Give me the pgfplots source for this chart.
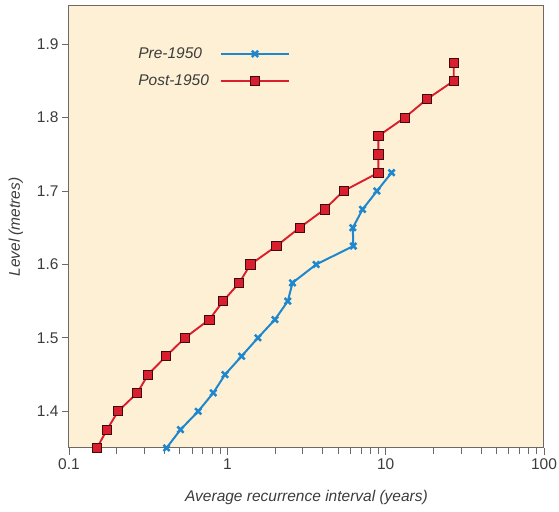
\documentclass[border=0pt]{standalone}
\usepackage{pgfplots}
\pgfplotsset{compat=1.18}
\usepackage{fontspec}
\setmainfont{Liberation Sans}

\definecolor{bgbeige}{RGB}{253,240,212}
\definecolor{postred}{RGB}{218,30,45}
\definecolor{preblue}{RGB}{30,135,205}
\definecolor{frame}{RGB}{110,105,100}
\definecolor{txt}{RGB}{60,60,60}

\begin{document}
\begin{tikzpicture}
\begin{axis}[
    xmode=log,
    scale only axis,
    width=475pt, height=442pt,
    xmin=0.1, xmax=100,
    ymin=1.35, ymax=1.952,
    xtick={0.1,1,10,100},
    xticklabels={0.1,1,10,100},
    ytick={1.4,1.5,1.6,1.7,1.8,1.9},
    yticklabels={1.4,1.5,1.6,1.7,1.8,1.9},
    tick align=outside,
    major tick length=7pt,
    minor tick length=6pt,
    xtick pos=bottom, ytick pos=left,
    tick style={draw=frame, line width=0.8pt},
    axis line style={draw=frame, line width=1pt},
    axis background/.style={fill=bgbeige},
    ticklabel style={font=\fontsize{15.5}{18}\selectfont, text=txt},
    label style={font=\fontsize{15.5}{18}\selectfont\itshape, text=txt},
    xlabel={Average recurrence interval (years)},
    ylabel={Level (metres)},
    xlabel style={yshift=-14pt},
    ylabel style={yshift=7pt},
    legend style={draw=none, fill=none, at={(0.135,0.915)}, anchor=north west,
        font=\fontsize{15.5}{18}\selectfont\itshape, text=txt, row sep=11pt,
        /tikz/every odd column/.append style={column sep=9pt}},
    legend plot pos=right,
    legend cell align=left,
    legend image code/.code={
        \draw[mark repeat=2, mark phase=2] plot coordinates {(0pt,0pt) (34pt,0pt) (68pt,0pt)};
    },
]
\addplot[color=preblue, line width=2pt, mark=x, mark size=4.4pt,
    mark options={line width=2.5pt}] coordinates {
    (0.413,1.35) (0.506,1.375) (0.655,1.4) (0.815,1.425) (0.967,1.45)
    (1.23,1.475) (1.56,1.5) (2.0,1.525) (2.41,1.55) (2.58,1.575)
    (3.64,1.6) (6.25,1.625) (6.2,1.65) (7.15,1.675) (8.81,1.7) (10.9,1.725)
};
\addlegendentry{Pre-1950}
\addplot[color=postred, line width=1.9pt, mark=square*, mark size=4.6pt,
    mark options={fill=postred, draw=black!70!postred, line width=0.8pt}] coordinates {
    (0.150,1.35) (0.174,1.375) (0.204,1.4) (0.27,1.425) (0.316,1.45)
    (0.41,1.475) (0.54,1.5) (0.77,1.525) (0.94,1.55) (1.19,1.575)
    (1.40,1.6) (2.04,1.625) (2.86,1.65) (4.11,1.675) (5.42,1.7)
    (9.0,1.725) (9.0,1.75) (9.0,1.775) (13.2,1.8) (18.2,1.825)
    (26.9,1.85) (26.9,1.875)
};
\addlegendentry{Post-1950}
\end{axis}
\pgfresetboundingbox
\path (current axis.south west) ++(-69pt,-64pt) coordinate (bl);
\path (current axis.north east) ++(15pt,6pt) coordinate (tr);
\path (bl) rectangle (tr);
\end{tikzpicture}
\end{document}
